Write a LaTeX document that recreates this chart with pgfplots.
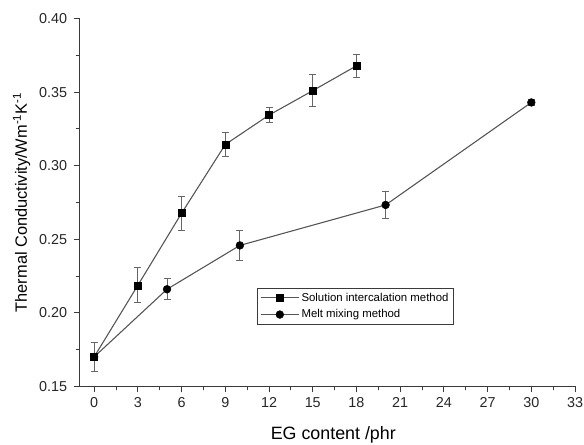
\documentclass[border=0pt]{standalone}
\usepackage{pgfplots}
\pgfplotsset{compat=1.18}
\usepackage{fontspec}
\setmainfont{Liberation Sans}
\definecolor{lin}{HTML}{555555}
\definecolor{axc}{HTML}{3A3A3A}
\definecolor{errc}{HTML}{666666}
\begin{document}
\begin{tikzpicture}
\begin{axis}[
  name=ax,
  width=498bp, height=369.6bp, scale only axis,
  xmin=-1, xmax=33, ymin=0.15, ymax=0.40,
  axis lines*=left,
  axis line style={axc, line width=1.2pt},
  xtick={0,3,...,33}, ytick={0.15,0.20,...,0.40},
  minor x tick num=1, minor y tick num=1,
  tick align=outside,
  major tick length=6bp, minor tick length=4bp,
  tick style={axc, line width=1pt},
  /pgf/number format/assume math mode=true,
  yticklabel style={/pgf/number format/fixed, /pgf/number format/fixed zerofill, /pgf/number format/precision=2, font=\fontsize{14.5}{14.5}\selectfont, xshift=-3bp, text=black!85},
  xticklabel style={font=\fontsize{14.5}{14.5}\selectfont, yshift=-2bp, text=black!85},
  scaled y ticks=false,
  xlabel={EG content /phr},
  ylabel={Thermal Conductivity/Wm\textsuperscript{-1}K\textsuperscript{-1}},
  xlabel style={font=\fontsize{18}{18}\selectfont, yshift=-12bp, xshift=6bp},
  ylabel style={font=\fontsize{16.5}{16.5}\selectfont, yshift=2bp},
  clip=false,
  legend style={at={(rel axis cs:0.3575,0.2684)}, anchor=north west, draw=axc, line width=0.8pt, font=\fontsize{11.5}{13}\selectfont, row sep=3bp, inner xsep=3bp, inner ysep=3bp},
  legend cell align=left,
  legend image code/.code={\draw[mark repeat=2,mark phase=2] plot coordinates {(0cm,0cm) (0.68cm,0cm) (1.36cm,0cm)};},
]
\addplot[lin, line width=1.1pt, mark=square*, mark size=3.5bp, mark options={black, fill=black, line width=0.5pt},
  error bars/.cd, y dir=both, y explicit, error bar style={errc, line width=0.9pt}, error mark options={errc, rotate=90, mark size=3.5bp, line width=0.9pt}]
coordinates {
 (0,0.170) +- (0,0.010)
 (3,0.2187) +- (0,0.012)
 (6,0.2677) +- (0,0.0115)
 (9,0.3144) +- (0,0.008)
 (12,0.3344) +- (0,0.005)
 (15,0.351) +- (0,0.011)
 (18,0.3679) +- (0,0.008)
};
\addlegendentry{Solution intercalation method}
\addplot[lin, line width=1.1pt, mark=*, mark size=3.9bp, mark options={black, fill=black, line width=0.5pt},
  error bars/.cd, y dir=both, y explicit, error bar style={errc, line width=0.9pt}, error mark options={errc, rotate=90, mark size=3.5bp, line width=0.9pt}]
coordinates {
 (0,0.170) +- (0,0.010)
 (5,0.216) +- (0,0.007)
 (10,0.2458) +- (0,0.010)
 (20,0.2733) +- (0,0.009)
 (30,0.343) +- (0,0.002)
};
\addlegendentry{Melt mixing method}
\end{axis}
\pgfresetboundingbox
\path ([shift={(-80bp,-58bp)}]ax.south west) rectangle ([shift={(9bp,18.7bp)}]ax.north east);
\end{tikzpicture}
\end{document}
